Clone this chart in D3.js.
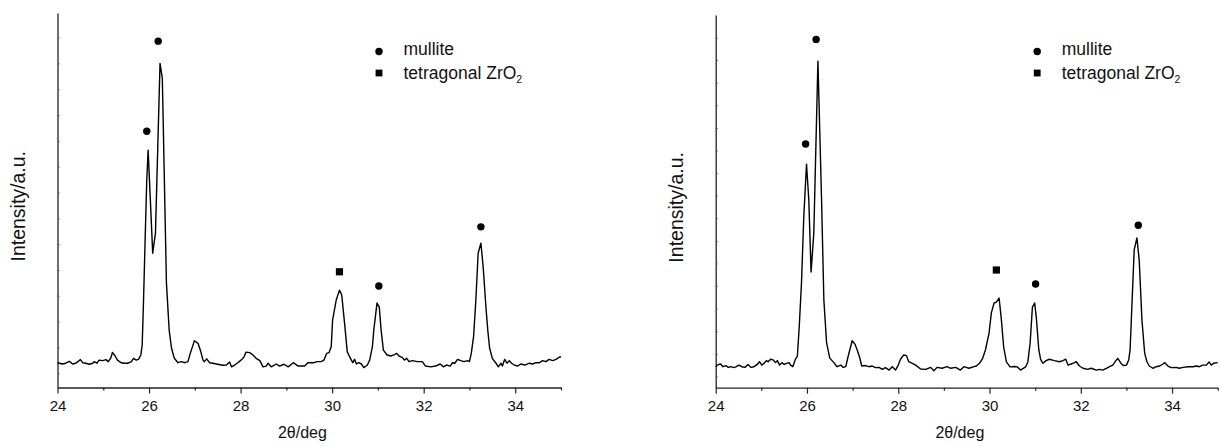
<!DOCTYPE html>
<html>
<head>
<meta charset="utf-8">
<script src="https://cdn.jsdelivr.net/npm/d3@7"></script>
<style>
body { margin: 0; background: #fff; }
svg { display: block; font-family: "Liberation Sans", Arial, sans-serif; }
</style>
</head>
<body>
<svg id="chart" width="1220" height="446"></svg>
<script>
// x axis ticks (2theta, deg)
const majorTicks = [24, 26, 28, 30, 32, 34]
const minorTicks = [25, 27, 29, 31, 33, 35]

// left pattern: [2theta, counts]
const patternA = [[24.00,1410],[24.11,1360],[24.18,1390],[24.26,1460],[24.33,1360],[24.40,1390],[24.50,1530],[24.55,1410],[24.62,1390],[24.69,1350],[24.77,1390],[24.80,1450],[24.86,1390],[24.91,1510],[24.99,1490],[25.06,1530],[25.11,1450],[25.17,1620],[25.20,1810],[25.26,1670],[25.31,1510],[25.39,1410],[25.46,1390],[25.53,1390],[25.61,1440],[25.66,1580],[25.72,1510],[25.77,1540],[25.82,1710],[25.85,2090],[25.88,3840],[25.92,6540],[25.95,8480],[25.98,9640],[26.08,5650],[26.14,6430],[26.24,13000],[26.29,12420],[26.38,4490],[26.44,2670],[26.49,1980],[26.55,1590],[26.63,1410],[26.70,1450],[26.78,1410],[26.85,1450],[26.90,1770],[26.96,2090],[26.99,2260],[27.07,2160],[27.12,1900],[27.18,1510],[27.21,1450],[27.26,1560],[27.32,1410],[27.39,1390],[27.50,1350],[27.61,1310],[27.69,1320],[27.76,1440],[27.80,1250],[27.87,1320],[27.94,1410],[28.01,1510],[28.07,1620],[28.12,1820],[28.20,1800],[28.27,1710],[28.34,1580],[28.42,1490],[28.49,1250],[28.56,1280],[28.60,1390],[28.67,1250],[28.78,1360],[28.85,1280],[28.95,1350],[29.04,1250],[29.15,1410],[29.26,1280],[29.40,1280],[29.47,1410],[29.53,1410],[29.60,1410],[29.67,1450],[29.76,1450],[29.82,1510],[29.88,1770],[29.93,1800],[29.98,2030],[30.01,3060],[30.09,3840],[30.16,4220],[30.21,4030],[30.28,2790],[30.33,1830],[30.40,1580],[30.45,1410],[30.49,1540],[30.53,1360],[30.58,1410],[30.64,1360],[30.69,1220],[30.77,1320],[30.82,1510],[30.88,2030],[30.91,2670],[30.98,3720],[31.03,3560],[31.07,2670],[31.12,1900],[31.20,1710],[31.28,1670],[31.35,1710],[31.41,1770],[31.46,1670],[31.53,1620],[31.58,1510],[31.63,1580],[31.68,1450],[31.75,1490],[31.86,1450],[31.97,1450],[32.04,1280],[32.15,1250],[32.26,1280],[32.36,1360],[32.43,1250],[32.50,1320],[32.58,1280],[32.63,1410],[32.68,1390],[32.74,1540],[32.81,1490],[32.88,1450],[32.96,1490],[33.00,1450],[33.04,1770],[33.09,2420],[33.14,3840],[33.19,5650],[33.25,6040],[33.30,5110],[33.36,3560],[33.40,2670],[33.44,1980],[33.50,1580],[33.58,1390],[33.63,1250],[33.69,1390],[33.72,1280],[33.77,1540],[33.82,1390],[33.87,1490],[33.92,1390],[33.98,1320],[34.05,1280],[34.12,1360],[34.21,1320],[34.31,1390],[34.38,1360],[34.45,1410],[34.53,1410],[34.60,1490],[34.67,1450],[34.74,1540],[34.82,1490],[34.89,1540],[34.96,1620],[35.00,1640]]
const mulliteA = [[25.95,10370],[26.20,13860],[31.02,4380],[33.25,6670]]
const zirconiaA = [[30.16,4930]]

// right pattern: [2theta, counts]
const patternB = [[24.00,1430],[24.06,1530],[24.11,1550],[24.16,1430],[24.22,1480],[24.28,1400],[24.33,1430],[24.40,1390],[24.45,1430],[24.51,1500],[24.57,1430],[24.64,1400],[24.71,1530],[24.77,1400],[24.84,1430],[24.91,1530],[24.96,1650],[25.01,1500],[25.06,1580],[25.11,1700],[25.15,1650],[25.20,1760],[25.26,1730],[25.31,1610],[25.35,1700],[25.40,1500],[25.45,1610],[25.50,1530],[25.55,1580],[25.61,1610],[25.64,1500],[25.69,1430],[25.74,1730],[25.79,1900],[25.83,3190],[25.88,5140],[25.93,8060],[25.99,10400],[26.04,8810],[26.09,5620],[26.15,7350],[26.24,14960],[26.32,8810],[26.37,4380],[26.43,2480],[26.50,1810],[26.59,1610],[26.66,1430],[26.74,1500],[26.79,1400],[26.85,1430],[26.90,1870],[26.99,2580],[27.05,2430],[27.10,2170],[27.15,1870],[27.20,1460],[27.28,1480],[27.36,1430],[27.43,1460],[27.50,1390],[27.58,1400],[27.65,1310],[27.72,1390],[27.80,1280],[27.87,1430],[27.94,1280],[28.00,1500],[28.05,1760],[28.12,1950],[28.18,1920],[28.23,1650],[28.31,1580],[28.38,1500],[28.49,1330],[28.60,1310],[28.71,1400],[28.78,1250],[28.85,1400],[28.96,1360],[29.07,1430],[29.15,1360],[29.26,1400],[29.36,1280],[29.44,1430],[29.55,1360],[29.66,1430],[29.71,1460],[29.78,1580],[29.85,1800],[29.91,2170],[29.99,2920],[30.04,3810],[30.10,4250],[30.15,4290],[30.21,4470],[30.26,3500],[30.31,2300],[30.37,1640],[30.45,1420],[30.55,1440],[30.61,1420],[30.68,1280],[30.79,1420],[30.84,1640],[30.89,2480],[30.94,4070],[30.99,4250],[31.03,3500],[31.08,2170],[31.12,1750],[31.17,1580],[31.24,1700],[31.31,1760],[31.42,1700],[31.53,1650],[31.61,1700],[31.67,1760],[31.72,1500],[31.79,1550],[31.86,1610],[31.90,1650],[31.97,1460],[32.05,1360],[32.15,1310],[32.23,1360],[32.34,1280],[32.41,1310],[32.48,1280],[32.56,1360],[32.63,1430],[32.70,1500],[32.78,1730],[32.81,1800],[32.89,1550],[32.94,1480],[33.00,1500],[33.05,1730],[33.08,2170],[33.11,3630],[33.17,6600],[33.23,7130],[33.28,6150],[33.34,3500],[33.40,2020],[33.45,1650],[33.50,1460],[33.58,1360],[33.65,1430],[33.73,1460],[33.80,1550],[33.84,1610],[33.91,1460],[33.98,1390],[34.09,1400],[34.16,1360],[34.24,1400],[34.35,1430],[34.46,1430],[34.53,1460],[34.60,1430],[34.67,1500],[34.75,1500],[34.81,1640],[34.86,1500],[34.91,1580],[35.00,1610]]
const mulliteB = [[25.97,11290],[26.20,15920],[31.01,5090],[33.26,7690]]
const zirconiaB = [[30.15,5710]]

const legendItems = ["mullite", "tetragonal ZrO"]

// panel layout
const panels = [
  { pattern: patternA, mullite: mulliteA, zro2: zirconiaA,
    left: 57.5, right: 561, top: 13, bottom: 387.5,
    yDomain: [450, 14950], yTicks: d3.range(1000, 14001, 1000) },
  { pattern: patternB, mullite: mulliteB, zro2: zirconiaB,
    left: 715.7, right: 1217.7, top: 15, bottom: 387.7,
    yDomain: [500, 17000], yTicks: d3.range(1000, 16001, 1000) }
]

const svg = d3.select("#chart")

panels.forEach(p => {
  const x = d3.scaleLinear().domain([24, 35]).range([p.left, p.right])
  const y = d3.scaleLinear().domain(p.yDomain).range([p.bottom, p.top])
  const g = svg.append("g")

  // y axis (small inward ticks, no labels)
  const yAx = g.append("g")
    .attr("transform", `translate(${p.left},0)`)
    .call(d3.axisLeft(y).tickValues(p.yTicks).tickSize(-2).tickSizeOuter(0).tickFormat(""))
  yAx.select(".domain").attr("stroke", "#222").attr("stroke-width", 1.3)
  yAx.selectAll(".tick line").attr("stroke", "#555").attr("stroke-width", 1)

  // x axis, major + minor
  const xAx = g.append("g")
    .attr("transform", `translate(0,${p.bottom})`)
    .call(d3.axisBottom(x).tickValues(majorTicks).tickSize(6).tickSizeOuter(0).tickPadding(6.5).tickFormat(d3.format("d")))
  xAx.select(".domain").attr("stroke", "#222").attr("stroke-width", 1.3)
  xAx.selectAll(".tick line").attr("stroke", "#222").attr("stroke-width", 1.2)
  xAx.selectAll(".tick text").attr("font-size", 15).attr("fill", "#111")
    .attr("font-family", "Liberation Sans, Arial, sans-serif")

  const xMin = g.append("g")
    .attr("transform", `translate(0,${p.bottom})`)
    .call(d3.axisBottom(x).tickValues(minorTicks).tickSize(3).tickSizeOuter(0).tickFormat(""))
  xMin.select(".domain").remove()
  xMin.selectAll(".tick line").attr("stroke", "#222").attr("stroke-width", 1.2)

  // titles
  g.append("text")
    .attr("x", x(29.35)).attr("y", 437.5)
    .attr("text-anchor", "middle").attr("font-size", 16).attr("fill", "#111")
    .text("2θ/deg")
  g.append("text")
    .attr("transform", `translate(${p.left - 32.5},${y((p.yDomain[0] + p.yDomain[1]) / 2) + 6}) rotate(-90)`)
    .attr("text-anchor", "middle").attr("font-size", 19.5).attr("fill", "#111")
    .text("Intensity/a.u.")

  // pattern
  const line = d3.line().x(d => x(d[0])).y(d => y(d[1]))
  g.append("path")
    .datum(p.pattern)
    .attr("d", line)
    .attr("fill", "none").attr("stroke", "#000").attr("stroke-width", 1.4)
    .attr("stroke-linejoin", "round")

  // peak markers
  g.selectAll("circle.m").data(p.mullite).join("circle")
    .attr("class", "m")
    .attr("cx", d => x(d[0])).attr("cy", d => y(d[1])).attr("r", 3.7)
    .attr("fill", "#000")
  g.selectAll("rect.z").data(p.zro2).join("rect")
    .attr("class", "z")
    .attr("x", d => x(d[0]) - 3.6).attr("y", d => y(d[1]) - 3.6)
    .attr("width", 7.2).attr("height", 7.2)
    .attr("fill", "#000")

  // legend
  const lg = g.append("g").attr("transform", `translate(${p.left + 321.5},0)`)
  lg.append("circle").attr("cx", 0).attr("cy", 51.5).attr("r", 3.7).attr("fill", "#000")
  lg.append("rect").attr("x", -3.4).attr("y", 69.6).attr("width", 6.8).attr("height", 6.8).attr("fill", "#000")
  lg.append("text").attr("x", 24.5).attr("y", 54.5).attr("font-size", 17.5).attr("fill", "#111")
    .text(legendItems[0])
  const t2 = lg.append("text").attr("x", 24.5).attr("y", 78.5).attr("font-size", 17.5).attr("fill", "#111")
  t2.append("tspan").text(legendItems[1])
  t2.append("tspan").attr("font-size", 10.5).attr("dy", 4).text("2")
})
</script>
</body>
</html>
